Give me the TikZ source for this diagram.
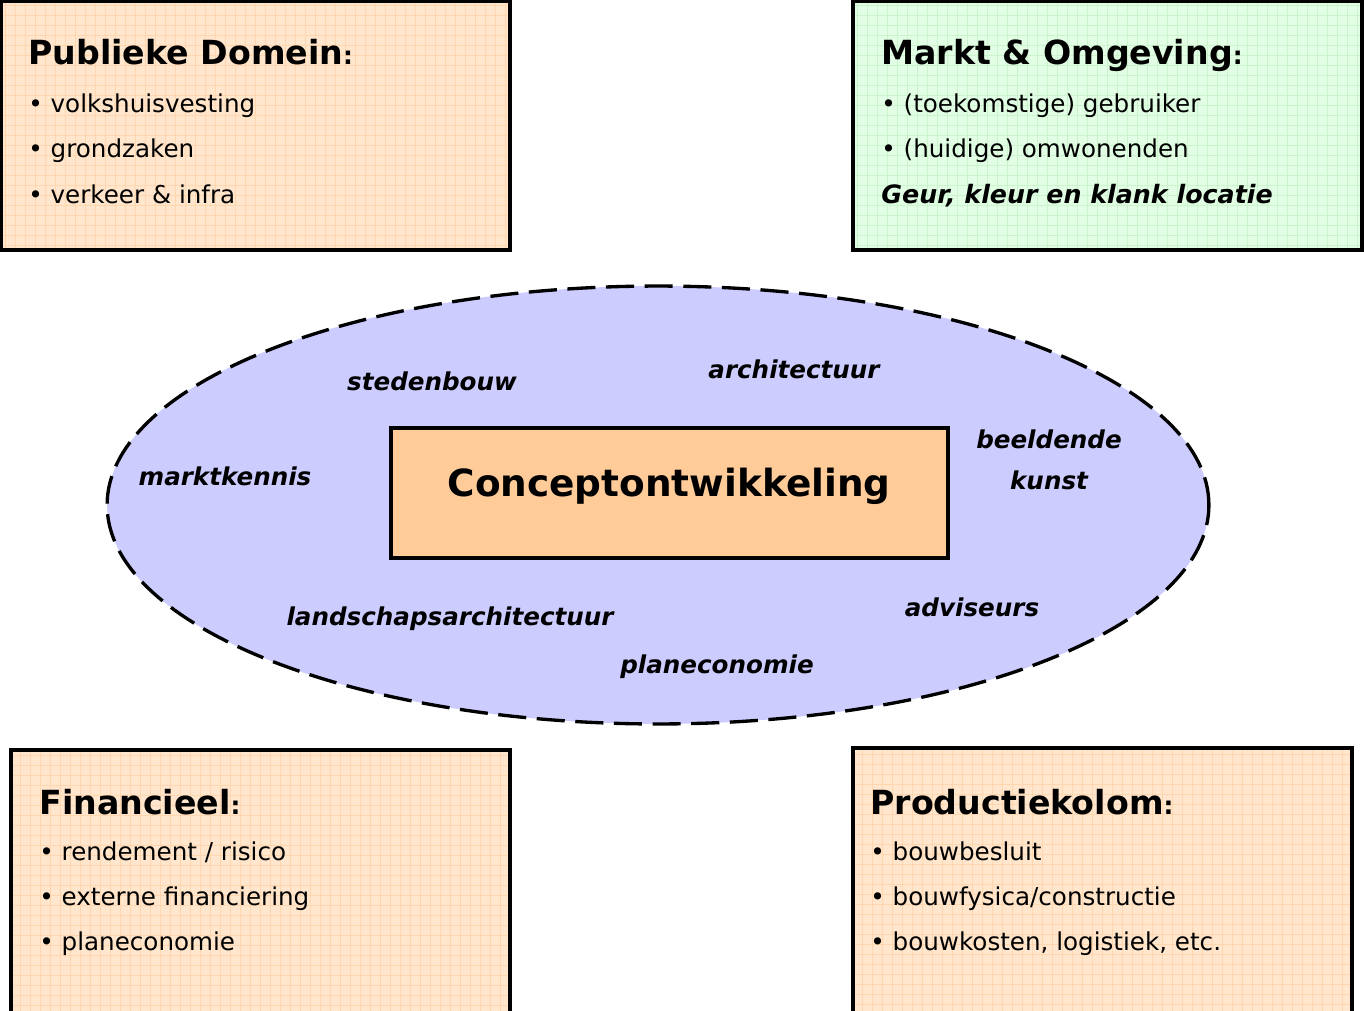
\documentclass[tikz,border=0pt]{standalone}
\usepackage{fontspec}
\setmainfont{DejaVu Sans}
\usetikzlibrary{shapes.geometric, positioning}
\definecolor{peach}{HTML}{FFE6CC}
\definecolor{peachline}{HTML}{FFD6AE}
\definecolor{mint}{HTML}{E2FFE6}
\definecolor{mintline}{HTML}{CBF4CD}
\definecolor{lilac}{HTML}{CCCCFF}
\definecolor{apricot}{HTML}{FFCC99}
\tikzset{
domainbox/.style={draw, line width=1.9pt, fill=#1, inner sep=0pt}, % the four outer boxes
gridded/.style={path picture={\draw[#1, line width=0.45pt, step=0.2cm]
  (path picture bounding box.south west) grid (path picture bounding box.north east);}},
heading/.style={anchor=base west, inner sep=0pt, font=\fontsize{18.9}{22}\selectfont\bfseries},
item/.style={anchor=base west, inner sep=0pt, font=\fontsize{14}{17}\selectfont},
field/.style={inner sep=0pt, font=\fontsize{14}{17}\selectfont\bfseries\itshape, align=center},
}
\newcommand{\hcolon}{{\fontsize{14}{17}\selectfont\bfseries:}}

\begin{document}
\begin{tikzpicture}[x=0.02cm, y=-0.02cm]
\useasboundingbox (0,0) rectangle (1364,1010);
\clip (0,0) rectangle (1364,1010);
% outer boxes
\node[domainbox=peach, gridded=peachline, minimum width=10.18cm, minimum height=4.98cm] (pd) at (255.5,125.5) {};
\node[domainbox=mint, gridded=mintline, minimum width=10.18cm, minimum height=4.98cm] (mo) at (1107.5,125.5) {};
\node[domainbox=peach, gridded=peachline, minimum width=9.98cm, minimum height=5.8cm] (fin) at (260.5,895) {};
\node[domainbox=peach, gridded=peachline, minimum width=9.98cm, minimum height=5.84cm] (prod) at (1102.5,894) {};

\node[heading] (pdt) at (28,65) {Publieke Domein\hcolon};
\node[item] (pd1) at (28,113) {• volkshuisvesting};
\node[item] (pd2) at (28,158) {• grondzaken};
\node[item] (pd3) at (28,203) {• verkeer \& infra};

\node[heading] (mot) at (881,65) {Markt \& Omgeving\hcolon};
\node[item] (mo1) at (881,113) {• (toekomstige) gebruiker};
\node[item] (mo2) at (881,158) {• (huidige) omwonenden};
\node[item, font=\fontsize{14.4}{17}\selectfont\bfseries\itshape] (mo3) at (881,203) {Geur, kleur en klank locatie};

\node[heading] (fint) at (39,814) {Financieel\hcolon};
\node[item] (fin1) at (39,860) {• rendement / risico};
\node[item] (fin2) at (39,905) {• externe financiering};
\node[item] (fin3) at (39,950) {• planeconomie};

\node[heading] (prodt) at (870,814) {Productiekolom\hcolon};
\node[item] (prod1) at (870,860) {• bouwbesluit};
\node[item] (prod2) at (870,905) {• bouwfysica/constructie};
\node[item] (prod3) at (870,950) {• bouwkosten, logistiek, etc.};

% the ring of disciplines
\node[ellipse, draw, fill=lilac, line width=1.9pt, dash pattern=on 16pt off 6pt,
      minimum width=22.04cm, minimum height=8.76cm, inner sep=0pt] (ring) at (658,505) {};
\node[draw, fill=apricot, line width=1.9pt, minimum width=11.14cm, minimum height=2.6cm] (core) at (669.5,493) {};
\node[inner sep=0pt, font=\fontsize{21.3}{25}\selectfont\bfseries, anchor=base] (coret) at (669,496) {Conceptontwikkeling};

\node[field] (sb) at (432,381) {stedenbouw};
\node[field] (ar) at (794,369) {architectuur};
\node[field] (bk) at (1049,460) {beeldende\\[6pt]kunst};
\node[field] (mk) at (225,476) {marktkennis};
\node[field] (la) at (450,619) {landschapsarchitectuur};
\node[field] (pe) at (717,667) {planeconomie};
\node[field] (ad) at (972,607) {adviseurs};
\end{tikzpicture}
\end{document}
